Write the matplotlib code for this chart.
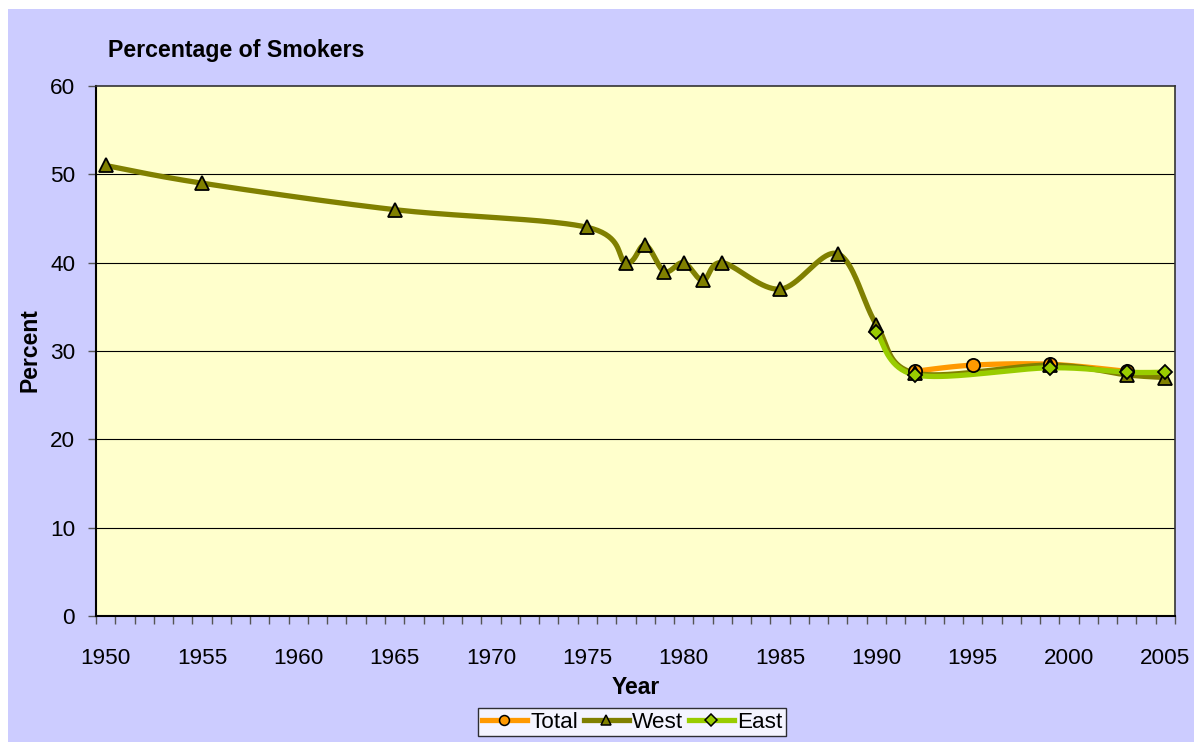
import numpy as np
import matplotlib
matplotlib.use('Agg')
import matplotlib.pyplot as plt
from matplotlib.patches import Rectangle

plt.rcParams['font.family'] = ['Liberation Sans', 'DejaVu Sans']

# data
west_years = [1950, 1955, 1965, 1975, 1977, 1978, 1979, 1980, 1981, 1982,
              1985, 1988, 1990, 1992, 1999, 2003, 2005]
west_vals = [51, 49, 46, 44, 40, 42, 39, 40, 38, 40,
             37, 41, 33, 27.5, 28.4, 27.3, 27.0]
total_years = [1992, 1995, 1999, 2003]
total_vals = [27.7, 28.4, 28.5, 27.7]
east_years = [1990, 1992, 1999, 2003, 2005]
east_vals = [32.2, 27.3, 28.1, 27.6, 27.6]
year_labels = list(range(1950, 2006, 5))
y_ticks = list(range(0, 61, 10))


def excel_smooth(ax, xs, ys, n=40):
    """Bezier smoothing like Excel's 'smoothed line', done in pixel space"""
    pts = ax.transData.transform(np.column_stack([xs, ys]))
    out = [pts[0]]
    for i in range(len(pts) - 1):
        p0 = pts[i - 1] if i > 0 else pts[i]
        p1 = pts[i]
        p2 = pts[i + 1]
        p3 = pts[i + 2] if i + 2 < len(pts) else pts[i + 1]
        c1 = p1 + (p2 - p0) / 6
        c2 = p2 - (p3 - p1) / 6
        t = np.linspace(0, 1, n)[1:, None]
        seg = ((1 - t) ** 3 * p1 + 3 * (1 - t) ** 2 * t * c1
               + 3 * (1 - t) * t ** 2 * c2 + t ** 3 * p2)
        out.extend(seg)
    out = ax.transData.inverted().transform(np.array(out))
    return out[:, 0], out[:, 1]


fig = plt.figure(figsize=(11.94, 7.42), dpi=100)
fig.patch.set_facecolor('white')
fig.patches.append(Rectangle((8 / 1194, 0), 1 - 8 / 1194, 1 - 9 / 742,
                             transform=fig.transFigure, facecolor='#CCCCFF',
                             edgecolor='none', zorder=-10))

ax = fig.add_axes([96 / 1194, 1 - 616 / 742, (1175 - 96) / 1194, (616 - 86) / 742])
ax.set_facecolor('#FFFFCC')
ax.set_xlim(1949.5, 2005.5)
ax.set_ylim(0, 60)

for yv in y_ticks[1:-1]:
    ax.axhline(yv, color='black', lw=0.8, zorder=1)

series = [
    ('Total', total_years, total_vals, '#FF9900', 'o', 9.5),
    ('West', west_years, west_vals, '#808000', '^', 10),
    ('East', east_years, east_vals, '#99CC00', 'D', 7.5),
]
fig.canvas.draw()
handles = []
for name, xs, ys, col, mk, ms in series:
    sx, sy = excel_smooth(ax, xs, ys)
    ax.plot(sx, sy, color=col, lw=3.8, solid_capstyle='round', zorder=2)
    ax.plot(xs, ys, ls='none', marker=mk, ms=ms, mfc=col, mec='black',
            mew=1.3, zorder=3)
    h, = ax.plot([], [], color=col, lw=3.8, marker=mk, ms=ms * 0.75, mfc=col,
                 mec='black', mew=1.1, label=name)
    handles.append(h)

ax.set_xticks(year_labels)
ax.set_xticks(np.arange(1949.5, 2006, 1), minor=True)
ax.tick_params(axis='x', which='major', length=0, pad=23, labelsize=16.2)
ax.tick_params(axis='x', which='minor', length=6, width=1, color='#555555',
               direction='out')
ax.set_yticks(y_ticks)
ax.tick_params(axis='y', length=6, width=1, color='#555555', pad=9,
               labelsize=16.2)

for side in ['left', 'bottom']:
    ax.spines[side].set_color('black')
    ax.spines[side].set_linewidth(1.5)
for side in ['top', 'right']:
    ax.spines[side].set_color('#333333')
    ax.spines[side].set_linewidth(1.2)

fig.text(108 / 1194, 1 - 50 / 742, 'Percentage of Smokers', fontsize=16.7,
         fontweight='bold', va='center', ha='left')
fig.text(30 / 1194, 1 - 350 / 742, 'Percent', fontsize=16.5, fontweight='bold',
         rotation=90, va='center', ha='center')
fig.text(636 / 1194, 1 - 688 / 742, 'Year', fontsize=16.5, fontweight='bold',
         va='center', ha='center')

leg = fig.legend(handles=handles, loc='center', ncol=3,
                 bbox_to_anchor=(632 / 1194, 1 - 722 / 742), fontsize=16.2,
                 frameon=True, fancybox=False, edgecolor='black',
                 handlelength=2.0, handletextpad=0.15, columnspacing=0.25,
                 borderpad=0.15, borderaxespad=0)
leg.get_frame().set_facecolor('white')
leg.get_frame().set_linewidth(1.0)

fig.savefig('out.png', dpi=100, facecolor=fig.get_facecolor())
